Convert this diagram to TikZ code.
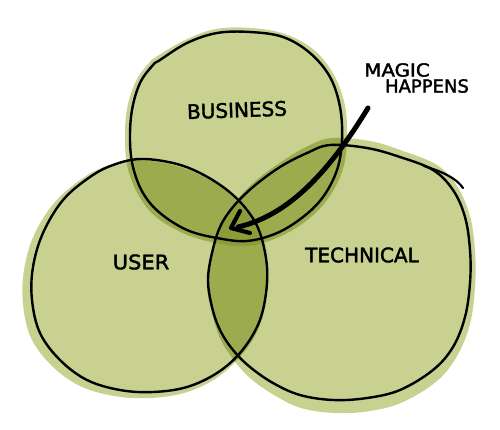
\documentclass[tikz,border=0pt]{standalone}
\usepackage{fontspec}
\usepackage{graphicx}
\setmainfont{DejaVu Sans}
\newfontfamily\handfont{DejaVu Sans}[FakeBold=2]
\definecolor{lightg}{HTML}{C8D190}
\definecolor{midg}{HTML}{9CAB4D}
\definecolor{darkg}{HTML}{8B9D38}
\begin{document}
\begin{tikzpicture}[x=1pt,y=-1pt,
  outline/.style={draw=black,line width=2.4pt,line join=round,line cap=round},
  lbl/.style={font=\handfont\fontsize{20}{23}\selectfont,text=black,inner sep=0pt},
  note/.style={font=\handfont\fontsize{18}{21}\selectfont,text=black,inner sep=0pt}]
\useasboundingbox (0,0) rectangle (500,429);
\fill[white] (0,0) rectangle (500,429);
% fill shapes
\def\bfill{plot[smooth cycle, tension=0.6] coordinates {
 (156,57) (185,40) (216,29) (251,28) (285,34) (314,50) (334,75) (345,106)
 (347,141) (342,172) (327,200) (306,221) (279,237) (248,246) (216,243)
 (185,234) (156,217) (139,196) (128,169) (125,141) (127,109) (136,81) (149,63)}}
\def\ufill{plot[smooth cycle, tension=0.6] coordinates {
 (135,160) (169,164) (198,174) (226,191) (246,212) (260,235) (267,270)
 (265,304) (257,332) (239,358) (215,379) (184,393) (149,398) (114,396)
 (80,386) (52,366) (31,338) (23,304) (24,270) (34,235) (55,202) (83,178) (107,166)}}
\def\tfill{plot[smooth cycle, tension=0.6] coordinates {
 (332,138) (370,141) (403,151) (437,165) (457,186) (470,216) (475,251)
 (475,287) (470,324) (457,356) (437,381) (403,402) (370,411) (335,413)
 (301,408) (274,395) (250,378) (233,359) (220,338) (212,313) (207,284)
 (212,254) (220,226) (233,205) (253,183) (281,162) (308,146)}}
\fill[lightg] \bfill;
\fill[lightg] \ufill;
\fill[lightg] \tfill;
\begin{scope}
  \clip \bfill;
  \fill[midg] \ufill;
  \fill[midg] \tfill;
  \clip \ufill;
  \fill[darkg] \tfill;
\end{scope}
\begin{scope}
  \clip \ufill;
  \fill[midg] \tfill;
  \clip \bfill;
  \fill[darkg] \tfill;
\end{scope}
% outlines
\draw[outline] plot[smooth cycle, tension=0.6] coordinates {
 (160,60) (187,43) (217,33) (250,32) (283,37) (310,53) (330,77) (340,107)
 (342,140) (337,170) (323,197) (303,217) (277,233) (247,241) (217,238)
 (187,230) (160,213) (143,193) (133,167) (130,140) (132,110) (140,83) (153,65)};
\draw[outline] plot[smooth cycle, tension=0.6] coordinates {
 (140,159) (173,163) (200,173) (227,190) (247,210) (260,233) (267,267)
 (265,300) (257,327) (240,353) (217,373) (187,387) (153,392) (120,390)
 (87,380) (60,360) (40,333) (32,300) (33,267) (43,233) (63,200) (90,177) (113,165)};
\draw[outline] plot[smooth cycle, tension=0.6] coordinates {
 (330,145) (367,148) (400,157) (433,170) (453,190) (465,217) (470,250)
 (470,283) (465,317) (453,347) (433,370) (400,390) (367,398) (333,400)
 (300,395) (273,383) (250,367) (233,350) (220,330) (212,307) (208,280)
 (212,253) (220,227) (233,207) (253,187) (280,167) (307,153)};
\draw[outline, line width=2.2pt] (424,166) .. controls (443,172) and (456,178) .. (463,188);
% labels
\node[lbl, rotate=2] (business) at (237,110) {BUSINESS};
\node[lbl] (user) at (141,262) {\scalebox{1.05}[1]{USER}};
\node[lbl] (technical) at (362,255) {TECHNICAL};
\node[note] (magic) at (397,70) {\scalebox{1.1}[1]{MAGIC}};
\node[note] (happens) at (427,86) {HAPPENS};
% arrow
\coordinate (astart) at (368,108);
\coordinate (atip) at (231,228);
\coordinate (ashaft) at (238,227);
\coordinate (barbA) at (240,211);
\coordinate (barbB) at (250,233);
\draw[line width=5pt, line cap=round] (astart) .. controls (330,170) and (290,215) .. (ashaft);
\draw[line width=4.2pt, line cap=round, line join=round] (barbA) -- (atip) -- (barbB);
\end{tikzpicture}
\end{document}
